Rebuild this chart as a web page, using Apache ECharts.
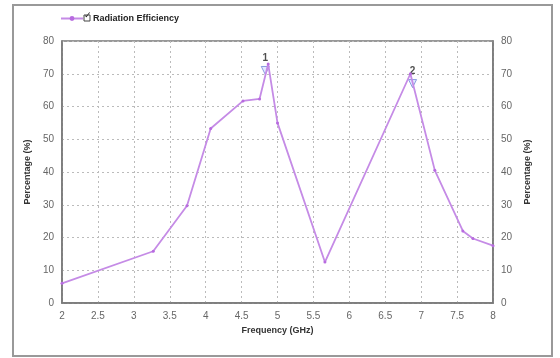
<!DOCTYPE html>
<html><head><meta charset="utf-8">
<script src="https://cdn.jsdelivr.net/npm/echarts@6/dist/echarts.min.js"></script>
<style>html,body{margin:0;padding:0;background:#fff}#c{width:560px;height:358px}</style>
</head><body><div id="c"></div>
<script>
var seriesName = 'Radiation Efficiency';
var freq = [2, 3.27, 3.74, 4.07, 4.52, 4.75, 4.87, 5.0, 5.66, 6.85, 7.19, 7.58, 7.72, 8];
var eff  = [6, 15.8, 29.7, 53.3, 61.7, 62.3, 73, 55, 12.5, 70, 40.5, 22, 19.7, 17.5];
var markerFreq = [4.83, 6.88];
var markerEff = [71, 67];
var markerLabels = ['1', '2'];
var xTicks = [2, 2.5, 3, 3.5, 4, 4.5, 5, 5.5, 6, 6.5, 7, 7.5, 8];
var yTicks = [0, 10, 20, 30, 40, 50, 60, 70, 80];
var xName = 'Frequency (GHz)';
var yName = 'Percentage (%)';

var chart = echarts.init(document.getElementById('c'), null, {renderer: 'canvas'});
var font = 'Liberation Sans';
var labelStyle = {color: '#666', fontSize: 10, fontFamily: font};
function yAxis(pos) {
  return {
    type: 'value', position: pos, min: yTicks[0], max: yTicks[yTicks.length - 1], interval: 10,
    name: yName, nameLocation: 'middle', nameGap: 26, nameRotate: 90,
    nameTextStyle: {color: '#333', fontSize: 9, fontWeight: 'bold', fontFamily: font},
    axisLine: {show: true, lineStyle: {color: '#777', width: 1.5}},
    axisTick: {show: false},
    axisLabel: labelStyle,
    splitLine: {show: pos === 'left', lineStyle: {color: '#bbb', type: [2, 3], width: 1}}
  };
}
chart.setOption({
  animation: false,
  grid: {left: 62, right: 67, top: 41, bottom: 55, show: true, borderColor: '#777', borderWidth: 1.5},
  graphic: [
    {type: 'rect', shape: {x: 13, y: 5, width: 539, height: 351}, style: {fill: 'none', stroke: '#999', lineWidth: 2}, silent: true},
    {type: 'rect', shape: {x: 84, y: 15, width: 6, height: 6}, style: {fill: '#fff', stroke: '#444', lineWidth: 1}, z: 10},
    {type: 'text', x: 84, y: 11, style: {text: '✓', fill: '#222', font: 'bold 9px DejaVu Sans'}, z: 11}
  ],
  legend: {
    left: 60, top: 14, padding: 0, itemWidth: 22, itemHeight: 6, itemGap: 4,
    data: [{name: seriesName}],
    formatter: function (n) { return '  ' + n; },
    textStyle: {color: '#222', fontSize: 9, fontWeight: 'bold', fontFamily: font}
  },
  xAxis: {
    type: 'value', min: xTicks[0], max: xTicks[xTicks.length - 1], interval: 0.5,
    name: xName, nameLocation: 'middle', nameGap: 22,
    nameTextStyle: {color: '#333', fontSize: 9, fontWeight: 'bold', fontFamily: font},
    axisLine: {show: true, lineStyle: {color: '#777', width: 1.5}},
    axisTick: {show: false},
    axisLabel: labelStyle,
    splitLine: {show: true, lineStyle: {color: '#bbb', type: [2, 3], width: 1}}
  },
  yAxis: [yAxis('left'), yAxis('right')],
  series: [
    {
      name: seriesName, type: 'line',
      data: freq.map(function (f, i) { return [f, eff[i]]; }),
      symbol: 'circle', symbolSize: 3, showSymbol: true,
      lineStyle: {color: '#c58be6', width: 1.8},
      itemStyle: {color: '#b86be0'}
    },
    {
      name: 'markers', type: 'scatter',
      data: markerFreq.map(function (f, i) { return [f, markerEff[i]]; }),
      symbol: 'triangle', symbolRotate: 180, symbolSize: 8,
      itemStyle: {color: '#dde4ff', borderColor: '#6f86d8', borderWidth: 1},
      label: {show: true, position: 'top', distance: 3,
        formatter: function (p) { return markerLabels[p.dataIndex]; },
        color: '#222', fontSize: 10, fontWeight: 'bold', fontFamily: font}
    }
  ]
});
</script></body></html>
